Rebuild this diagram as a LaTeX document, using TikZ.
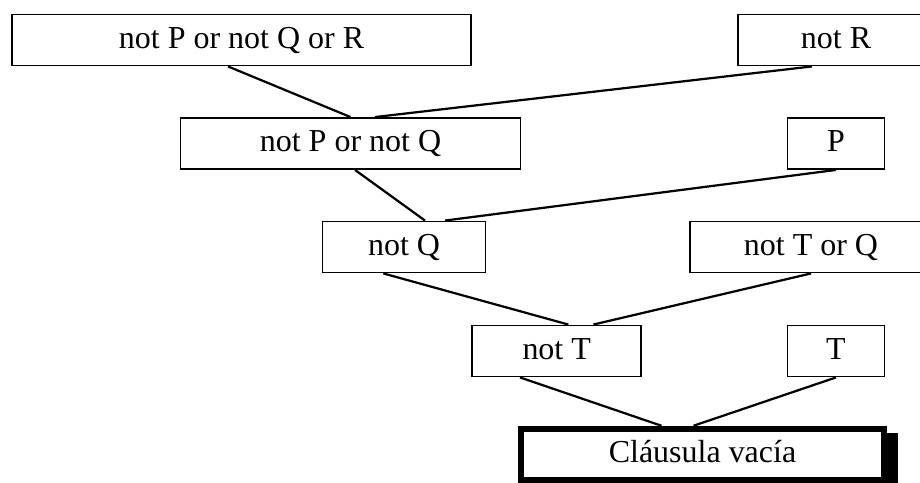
\documentclass[tikz,border=0pt]{standalone}
\usepackage{fontspec}
\setmainfont{Liberation Serif}
\usepackage{tikz}
\usetikzlibrary{shadows}
\tikzset{
    clause/.style={draw, line width=1.6pt, rectangle, minimum height=1.53cm, inner sep=0pt,
        text height=20.5pt, text depth=6.8pt, font=\fontsize{27.3}{32}\selectfont},
    empty clause/.style={clause, line width=5pt, fill=white,
        drop shadow={shadow xshift=0.40cm, shadow yshift=-0.12cm, opacity=1, fill=black}},
    link/.style={line width=1.9pt}
}

\begin{document}
\begin{tikzpicture}[x=0.03cm,y=-0.03cm]
    \useasboundingbox (0,0) rectangle (920,483);
    \node[clause, minimum width=13.77cm] (pqr) at (241.5,40) {not P or not Q or R};
    \node[clause, minimum width=5.88cm] (notr) at (836,40) {not R};
    \node[clause, minimum width=10.2cm] (notpq) at (350.5,143.5) {not P or not Q};
    \node[clause, minimum width=2.91cm] (p) at (836,143.5) {P};
    \node[clause, minimum width=4.89cm] (notq) at (404,247) {not Q};
    \node[clause, minimum width=7.26cm] (nottq) at (811,247) {not T or Q};
    \node[clause, minimum width=5.07cm] (nott) at (556.7,351) {not T};
    \node[clause, minimum width=2.91cm] (t) at (836,351) {T};
    \node[empty clause, minimum width=10.91cm] (empty) at (702.5,454.2) {Cláusula vacía};

    \draw[link] ([xshift=-0.405cm]pqr.south) -- (notpq.north);
    \draw[link] ([xshift=-0.72cm]notr.south) -- ([xshift=0.735cm]notpq.north);
    \draw[link] ([xshift=0.135cm]notpq.south) -- ([xshift=0.63cm]notq.north);
    \draw[link] (p.south) -- ([xshift=1.23cm]notq.north);
    \draw[link] ([xshift=-0.62cm]notq.south) -- ([xshift=0.35cm]nott.north);
    \draw[link] (nottq.south) -- ([xshift=1.1cm]nott.north);
    \draw[link] ([xshift=-1.1cm]nott.south) -- ([xshift=-1.23cm]empty.north);
    \draw[link] (t.south) -- ([xshift=-0.27cm]empty.north);
\end{tikzpicture}
\end{document}
